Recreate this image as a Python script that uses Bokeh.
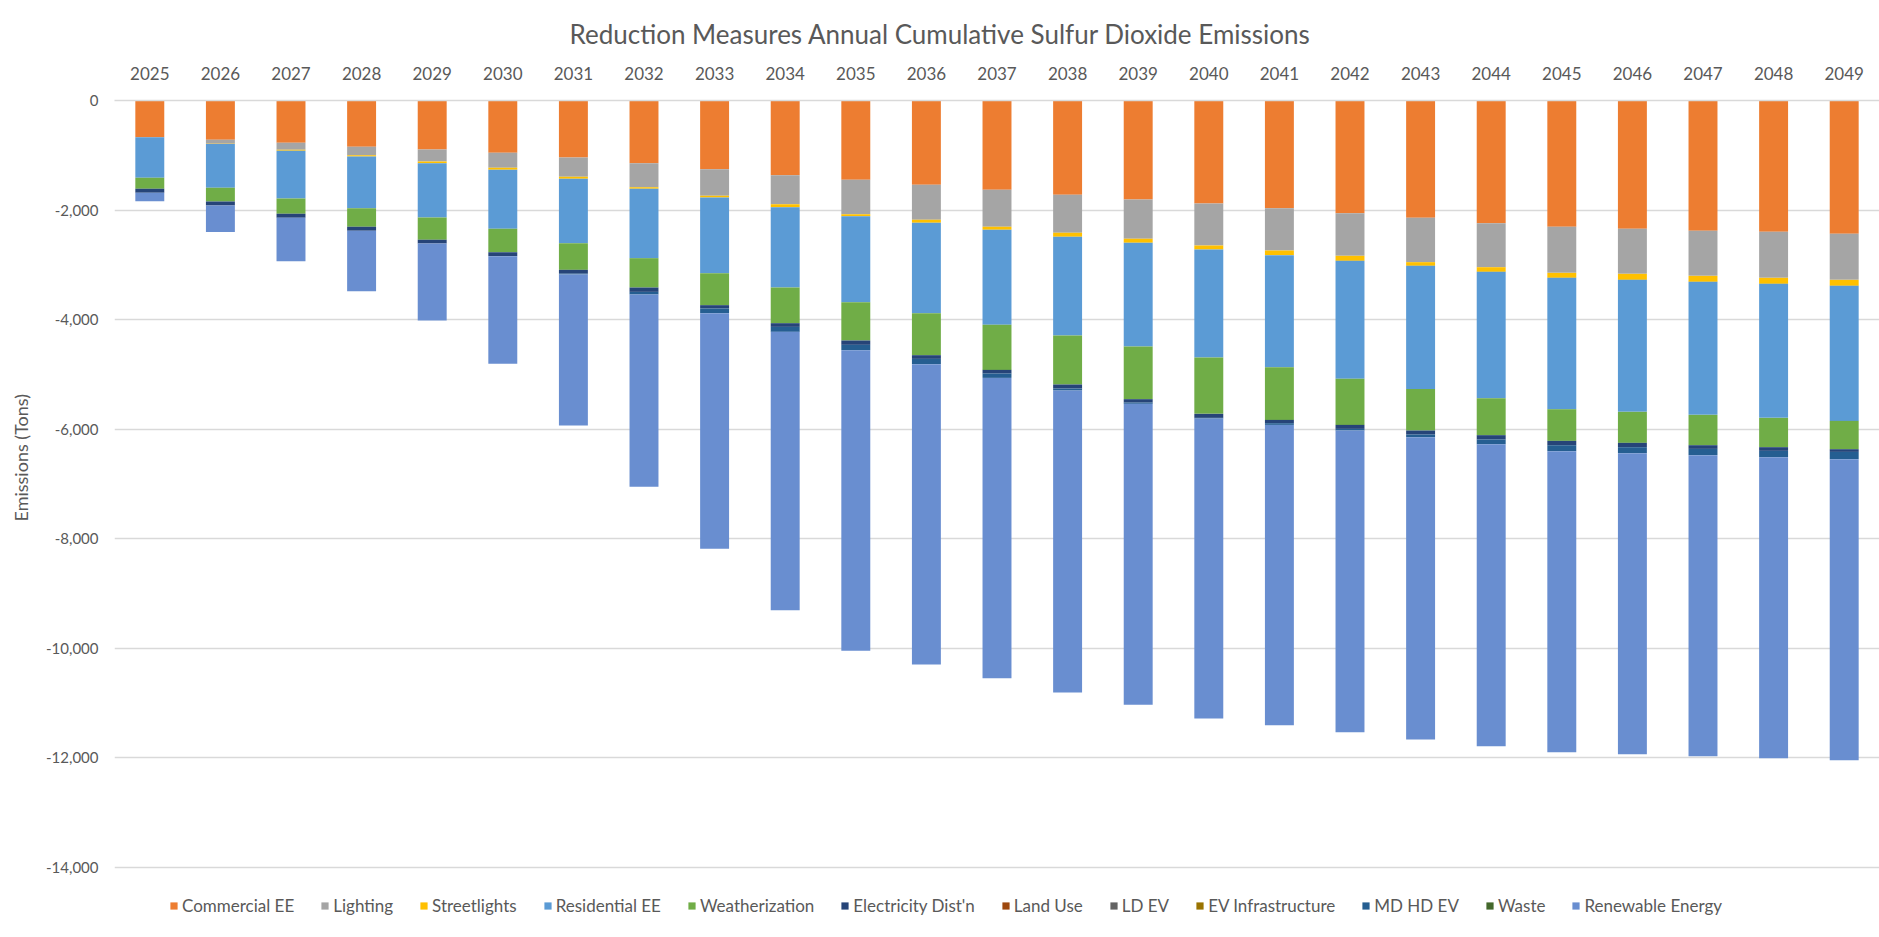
from bokeh.plotting import figure
from bokeh.models import (ColumnDataSource, FactorRange, Range1d, FixedTicker,
                          NumeralTickFormatter, Legend, LegendItem, Title)
from bokeh.embed import file_html
from bokeh.resources import INLINE

years = ["2025", "2026", "2027", "2028", "2029", "2030", "2031", "2032", "2033",
         "2034", "2035", "2036", "2037", "2038", "2039", "2040", "2041", "2042",
         "2043", "2044", "2045", "2046", "2047", "2048", "2049"]

commercial_ee = [-669, -718, -773, -846, -894, -955, -1041, -1144, -1254, -1363, -1448, -1540,
                 -1631, -1722, -1807, -1880, -1965, -2057, -2142, -2239, -2306, -2343, -2379,
                 -2397, -2434]
lighting = [0, -73, -127, -152, -220, -274, -352, -438, -486, -529, -627, -638, -675, -694,
            -718, -767, -773, -778, -809, -804, -840, -821, -822, -840, -840]
streetlights = [0, -4, -19, -24, -30, -37, -37, -31, -31, -55, -36, -55, -55, -73, -73, -73,
                -85, -92, -67, -85, -91, -110, -109, -110, -109]
residential_ee = [-743, -797, -870, -943, -992, -1077, -1174, -1265, -1381, -1467, -1570,
                  -1649, -1734, -1801, -1893, -1972, -2045, -2154, -2246, -2306, -2398, -2409,
                  -2428, -2446, -2465]
weatherization = [-200, -250, -280, -341, -408, -426, -487, -536, -584, -651, -700, -767, -822,
                  -894, -961, -1028, -962, -840, -760, -675, -578, -566, -554, -535, -517]
electricity_distn = [-74, -73, -73, -73, -66, -73, -70, -79, -61, -67, -79, -67, -67, -73, -61,
                     -73, -60, -73, -73, -79, -79, -79, -67, -67, -49]
land_use = [0, 0, 0, 0, 0, 0, 0, 0, 0, 0, 0, 0, 0, 0, 0, 0, 0, 0, 0, 0, 0, 0, 0, 0, 0]
ld_ev = [0, 0, 0, 0, 0, 0, 0, 0, 0, 0, 0, 0, 0, 0, 0, 0, 0, 0, 0, 0, 0, 0, 0, 0, 0]
ev_infrastructure = [0, 0, 0, 0, 0, 0, 0, 0, 0, 0, 0, 0, 0, 0, 0, 0, 0, 0, 0, 0, 0, 0, 0, 0, 0]
md_hd_ev = [0, 0, 0, 0, 0, 0, -15, -48, -85, -91, -98, -97, -79, -37, -24, -12, -31, -30, -49,
            -86, -109, -110, -115, -116, -133]
waste = [0, 0, 0, 0, 0, 0, 0, 0, 0, 0, 0, 0, 0, 0, 0, 0, 0, 0, 0, 0, 0, 0, 0, 0, 0]
renewable_energy = [-152, -486, -791, -1102, -1406, -1965, -2757, -3507, -4298, -5082, -5486,
                    -5481, -5482, -5511, -5494, -5476, -5482, -5507, -5518, -5512, -5495, -5495,
                    -5495, -5495, -5496]

series_names = ["Commercial EE", "Lighting", "Streetlights", "Residential EE", "Weatherization",
                "Electricity Dist'n", "Land Use", "LD EV", "EV Infrastructure", "MD HD EV",
                "Waste", "Renewable Energy"]
series_values = [commercial_ee, lighting, streetlights, residential_ee, weatherization,
                 electricity_distn, land_use, ld_ev, ev_infrastructure, md_hd_ev, waste,
                 renewable_energy]
colors = ["#ED7D31", "#A5A5A5", "#FFC000", "#5B9BD5", "#70AD47", "#264478",
          "#9E480E", "#636363", "#997300", "#255E91", "#43682B", "#698ED0"]
y_ticks = [-14000, -12000, -10000, -8000, -6000, -4000, -2000, 0]

title_text = "Reduction Measures Annual Cumulative Sulfur Dioxide Emissions"
y_label = "Emissions (Tons)"

FONT = "Lato"
TXT = "#595959"
GRID = "#D9D9D9"

# layout (pixels)
W, H = 1879, 937
LEFT, TOP = 112, 100
AXIS_BOTTOM_PX = 867          # where -14,000 sits; area below holds the legend
Y_MIN, Y_MAX = -14000, 0
# the frame runs to the bottom of the canvas so the legend can live inside it
y_low = Y_MIN - (H - AXIS_BOTTOM_PX) * (Y_MAX - Y_MIN) / (AXIS_BOTTOM_PX - TOP)

data = {"year": years}
keys = []
for i, vals in enumerate(series_values):
    k = "s%d" % i
    keys.append(k)
    data[k] = vals
source = ColumnDataSource(data)

p = figure(width=W, height=H, x_range=FactorRange(*years, range_padding=0),
           y_range=Range1d(y_low, Y_MAX), x_axis_location="above", title=title_text,
           output_backend="svg", toolbar_location=None,
           min_border_left=LEFT, min_border_right=0, min_border_top=TOP,
           min_border_bottom=0)
p.outline_line_color = None
p.background_fill_color = "white"
p.border_fill_color = "white"

# title: left-aligned with an offset so that it sits centred on the whole chart
p.title.align = "left"
p.title.offset = 455
p.title.vertical_align = "top"
p.title.standoff = 24
p.title.text_font = FONT
p.title.text_font_size = "26px"
p.title.text_font_style = "normal"
p.title.text_color = TXT

renderers = p.vbar_stack(keys, x="year", width=0.41, color=colors, source=source,
                         line_width=0)

# axes
p.xaxis.axis_line_color = GRID
p.xaxis.axis_line_width = 1.5
p.xaxis.major_tick_line_color = None
p.xaxis.minor_tick_line_color = None
p.xaxis.major_tick_out = 0
p.xaxis.minor_tick_out = 0
p.xaxis.major_label_text_font = FONT
p.xaxis.major_label_text_font_size = "17px"
p.xaxis.major_label_text_color = TXT
p.xaxis.major_label_standoff = 21

p.yaxis.ticker = FixedTicker(ticks=y_ticks)
p.yaxis.formatter = NumeralTickFormatter(format="0,0")
p.yaxis.axis_line_color = None
p.yaxis.major_tick_line_color = None
p.yaxis.minor_tick_line_color = None
p.yaxis.major_tick_out = 0
p.yaxis.minor_tick_out = 0
p.yaxis.major_label_text_font = FONT
p.yaxis.major_label_text_font_size = "15px"
p.yaxis.major_label_text_color = TXT
p.yaxis.major_label_standoff = 16

# y-axis title, positioned along the axis part above the legend area
ytitle = Title(text=y_label, align="left", offset=416, vertical_align="top", standoff=19,
               text_font=FONT, text_font_size="18px", text_font_style="normal",
               text_color=TXT)
p.add_layout(ytitle, "left")

p.xgrid.grid_line_color = None
p.ygrid.ticker = FixedTicker(ticks=y_ticks)
p.ygrid.grid_line_color = GRID
p.ygrid.grid_line_width = 1.5

items = [LegendItem(label=n, renderers=[r]) for n, r in zip(series_names, renderers)]
legend = Legend(items=items, orientation="horizontal", location=(55, 21),
                spacing=26, glyph_width=9, glyph_height=9, label_standoff=4,
                padding=0, margin=0, label_text_font=FONT, label_text_font_size="17px",
                label_text_color=TXT, border_line_color=None, background_fill_alpha=0,
                label_height=20)
p.add_layout(legend, "center")

open("out.html", "w").write(file_html(p, INLINE))
